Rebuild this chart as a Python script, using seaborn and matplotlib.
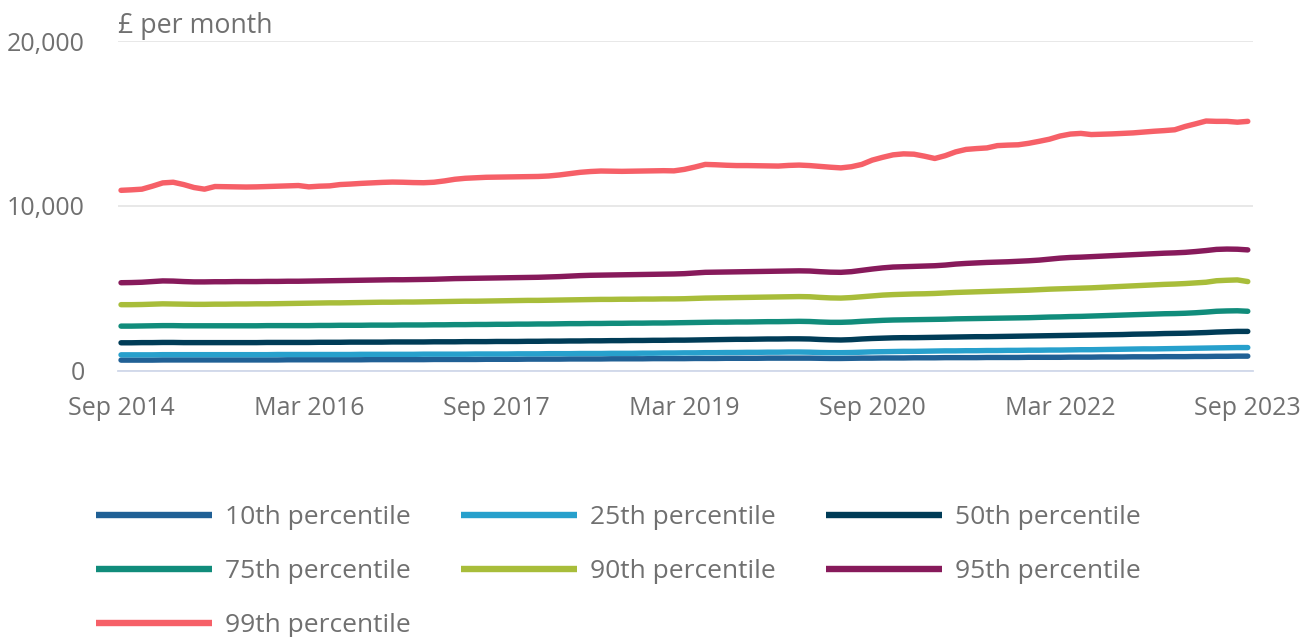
import pandas as pd
import matplotlib.pyplot as plt
import matplotlib.ticker as mticker
import seaborn as sns

# monthly pay by percentile, Sep 2014 .. Sep 2023, in £ thousands per month
p10 = [0.66, 0.66, 0.66, 0.66, 0.67, 0.67, 0.67, 0.67, 0.67,
       0.67, 0.67, 0.67, 0.67, 0.67, 0.67, 0.67, 0.68, 0.68,
       0.68, 0.68, 0.68, 0.68, 0.68, 0.68, 0.69, 0.69, 0.69,
       0.69, 0.69, 0.69, 0.70, 0.70, 0.70, 0.70, 0.70, 0.71,
       0.71, 0.71, 0.71, 0.72, 0.72, 0.72, 0.72, 0.73, 0.73,
       0.73, 0.73, 0.74, 0.74, 0.74, 0.74, 0.75, 0.75, 0.75,
       0.75, 0.76, 0.76, 0.76, 0.77, 0.77, 0.77, 0.77, 0.78,
       0.78, 0.78, 0.78, 0.78, 0.77, 0.76, 0.76, 0.77, 0.78,
       0.78, 0.79, 0.79, 0.79, 0.80, 0.80, 0.80, 0.81, 0.81,
       0.81, 0.81, 0.82, 0.82, 0.82, 0.82, 0.83, 0.83, 0.83,
       0.83, 0.84, 0.84, 0.84, 0.85, 0.85, 0.85, 0.86, 0.86,
       0.86, 0.87, 0.87, 0.87, 0.88, 0.88, 0.89, 0.89, 0.90,
       0.90]
p25 = [0.98, 0.98, 0.98, 0.98, 0.99, 0.99, 0.99, 0.99, 0.99,
       0.99, 0.99, 0.99, 0.99, 0.99, 0.99, 1.00, 1.00, 1.00,
       1.00, 1.00, 1.00, 1.00, 1.00, 1.01, 1.01, 1.01, 1.01,
       1.01, 1.01, 1.02, 1.02, 1.02, 1.02, 1.02, 1.03, 1.03,
       1.03, 1.03, 1.04, 1.04, 1.04, 1.05, 1.05, 1.05, 1.06,
       1.06, 1.06, 1.07, 1.07, 1.07, 1.08, 1.08, 1.09, 1.09,
       1.10, 1.10, 1.11, 1.11, 1.12, 1.12, 1.13, 1.13, 1.14,
       1.14, 1.15, 1.15, 1.14, 1.12, 1.11, 1.11, 1.12, 1.14,
       1.16, 1.17, 1.18, 1.19, 1.19, 1.20, 1.21, 1.22, 1.22,
       1.23, 1.23, 1.24, 1.24, 1.25, 1.25, 1.26, 1.26, 1.27,
       1.27, 1.28, 1.29, 1.29, 1.30, 1.31, 1.32, 1.33, 1.34,
       1.34, 1.35, 1.36, 1.37, 1.38, 1.39, 1.40, 1.41, 1.42,
       1.42]
p50 = [1.71, 1.71, 1.72, 1.72, 1.73, 1.73, 1.72, 1.72, 1.72,
       1.72, 1.72, 1.72, 1.72, 1.72, 1.73, 1.73, 1.73, 1.73,
       1.73, 1.74, 1.74, 1.74, 1.75, 1.75, 1.75, 1.75, 1.76,
       1.76, 1.76, 1.76, 1.77, 1.77, 1.77, 1.78, 1.78, 1.78,
       1.79, 1.79, 1.79, 1.80, 1.80, 1.81, 1.81, 1.82, 1.82,
       1.83, 1.83, 1.84, 1.84, 1.85, 1.85, 1.86, 1.86, 1.87,
       1.87, 1.88, 1.89, 1.90, 1.91, 1.92, 1.92, 1.93, 1.94,
       1.94, 1.95, 1.95, 1.94, 1.91, 1.89, 1.88, 1.90, 1.94,
       1.97, 1.99, 2.01, 2.02, 2.02, 2.03, 2.04, 2.05, 2.06,
       2.07, 2.08, 2.08, 2.09, 2.10, 2.11, 2.12, 2.13, 2.14,
       2.15, 2.16, 2.17, 2.18, 2.19, 2.20, 2.21, 2.23, 2.24,
       2.25, 2.27, 2.28, 2.29, 2.31, 2.33, 2.36, 2.38, 2.40,
       2.40]
p75 = [2.72, 2.72, 2.73, 2.74, 2.75, 2.75, 2.74, 2.74, 2.74,
       2.74, 2.74, 2.74, 2.74, 2.74, 2.75, 2.75, 2.75, 2.75,
       2.75, 2.76, 2.76, 2.77, 2.77, 2.77, 2.78, 2.78, 2.78,
       2.79, 2.79, 2.79, 2.80, 2.80, 2.81, 2.81, 2.82, 2.82,
       2.83, 2.83, 2.84, 2.84, 2.85, 2.85, 2.86, 2.87, 2.87,
       2.88, 2.88, 2.89, 2.89, 2.90, 2.90, 2.91, 2.91, 2.92,
       2.93, 2.94, 2.95, 2.96, 2.96, 2.97, 2.97, 2.98, 2.99,
       2.99, 3.00, 3.01, 3.00, 2.97, 2.95, 2.95, 2.97, 3.01,
       3.04, 3.07, 3.09, 3.10, 3.11, 3.12, 3.13, 3.14, 3.16,
       3.17, 3.18, 3.19, 3.20, 3.21, 3.22, 3.23, 3.25, 3.27,
       3.28, 3.30, 3.31, 3.33, 3.35, 3.37, 3.39, 3.41, 3.43,
       3.45, 3.47, 3.48, 3.50, 3.53, 3.57, 3.62, 3.64, 3.65,
       3.62]
p90 = [4.02, 4.02, 4.03, 4.05, 4.07, 4.06, 4.05, 4.04, 4.04,
       4.05, 4.05, 4.06, 4.06, 4.07, 4.07, 4.08, 4.09, 4.10,
       4.11, 4.12, 4.13, 4.13, 4.14, 4.15, 4.16, 4.17, 4.17,
       4.18, 4.18, 4.19, 4.20, 4.21, 4.22, 4.23, 4.23, 4.24,
       4.25, 4.26, 4.27, 4.28, 4.28, 4.29, 4.30, 4.31, 4.32,
       4.33, 4.34, 4.34, 4.35, 4.35, 4.36, 4.36, 4.37, 4.37,
       4.38, 4.40, 4.42, 4.43, 4.44, 4.45, 4.46, 4.47, 4.48,
       4.49, 4.50, 4.51, 4.50, 4.46, 4.43, 4.42, 4.45, 4.50,
       4.55, 4.60, 4.63, 4.65, 4.67, 4.68, 4.70, 4.73, 4.76,
       4.78, 4.80, 4.82, 4.84, 4.86, 4.88, 4.90, 4.93, 4.96,
       4.98, 5.00, 5.02, 5.04, 5.07, 5.10, 5.13, 5.16, 5.19,
       5.22, 5.25, 5.27, 5.30, 5.34, 5.38, 5.47, 5.50, 5.52,
       5.42]
p95 = [5.35, 5.36, 5.38, 5.42, 5.46, 5.45, 5.42, 5.40, 5.40,
       5.41, 5.41, 5.42, 5.42, 5.42, 5.43, 5.43, 5.44, 5.44,
       5.45, 5.46, 5.47, 5.48, 5.49, 5.50, 5.51, 5.52, 5.53,
       5.53, 5.54, 5.55, 5.56, 5.58, 5.60, 5.61, 5.62, 5.63,
       5.64, 5.65, 5.66, 5.67, 5.68, 5.70, 5.72, 5.75, 5.78,
       5.80, 5.81, 5.82, 5.83, 5.84, 5.85, 5.86, 5.87, 5.88,
       5.90, 5.94, 5.98, 5.99, 6.00, 6.01, 6.02, 6.03, 6.04,
       6.05, 6.06, 6.07, 6.06, 6.02, 5.99, 5.98, 6.02, 6.10,
       6.18, 6.25, 6.30, 6.32, 6.34, 6.36, 6.38, 6.42, 6.48,
       6.52, 6.55, 6.58, 6.60, 6.62, 6.65, 6.68, 6.72, 6.78,
       6.84, 6.88, 6.90, 6.93, 6.96, 6.99, 7.02, 7.05, 7.08,
       7.11, 7.14, 7.16, 7.19, 7.24, 7.30, 7.37, 7.39, 7.38,
       7.34]
p99 = [10.95, 10.98, 11.02, 11.20, 11.40, 11.44, 11.30, 11.12, 11.02,
       11.18, 11.17, 11.16, 11.15, 11.16, 11.18, 11.20, 11.22, 11.24,
       11.16, 11.20, 11.22, 11.30, 11.33, 11.37, 11.40, 11.43, 11.45,
       11.44, 11.42, 11.41, 11.44, 11.52, 11.62, 11.68, 11.71, 11.74,
       11.75, 11.76, 11.77, 11.78, 11.79, 11.82, 11.88, 11.96, 12.04,
       12.09, 12.12, 12.11, 12.10, 12.11, 12.12, 12.13, 12.14, 12.13,
       12.22, 12.36, 12.52, 12.50, 12.47, 12.45, 12.45, 12.44, 12.43,
       12.42, 12.46, 12.48, 12.45, 12.40, 12.35, 12.31, 12.38, 12.52,
       12.78, 12.95, 13.10, 13.16, 13.14, 13.02, 12.88, 13.05, 13.28,
       13.43, 13.48, 13.52, 13.66, 13.69, 13.71, 13.80, 13.92, 14.05,
       14.24, 14.36, 14.40, 14.33, 14.35, 14.37, 14.40, 14.43, 14.48,
       14.53, 14.57, 14.62, 14.82, 14.98, 15.15, 15.13, 15.13, 15.08,
       15.13]

series_names = ["10th percentile", "25th percentile", "50th percentile",
                "75th percentile", "90th percentile", "95th percentile",
                "99th percentile"]
series_values = [p10, p25, p50, p75, p90, p95, p99]
colors = ["#206095", "#27a0cc", "#003c57", "#118c7b",
          "#a8bd3a", "#871a5b", "#f66068"]

tick_months = [0, 18, 36, 54, 72, 90, 108]
tick_labels = ["Sep 2014", "Mar 2016", "Sep 2017", "Mar 2019",
               "Sep 2020", "Mar 2022", "Sep 2023"]

frames = []
for name, vals in zip(series_names, series_values):
    frames.append(pd.DataFrame({"month": range(len(vals)), "pay": vals, "series": name}))
df = pd.concat(frames, ignore_index=True)

sns.set_style("white")
plt.rcParams["font.family"] = ["Open Sans", "DejaVu Sans"]

text_grey = "#707070"
axis_blue = "#d0d8ea"

fig = plt.figure(figsize=(13.13, 6.37), dpi=100)
ax = fig.add_axes([118 / 1313, 1 - 371 / 637, (1253 - 118) / 1313, (371 - 41) / 637])

sns.lineplot(data=df, x="month", y="pay", hue="series", hue_order=series_names,
             palette=dict(zip(series_names, colors)), linewidth=3.9, ax=ax,
             solid_capstyle="round", legend=True)

ax.set_xlim(-0.29, 108.5)
ax.set_ylim(0, 20)
ax.set_xlabel("")
ax.set_ylabel("")

ax.set_yticks([0, 10, 20])
ax.yaxis.set_major_formatter(mticker.FuncFormatter(lambda v, p: f"{v * 1000:,.0f}"))
ax.grid(axis="y", color="#e6e6e6", linewidth=1.3)
ax.tick_params(axis="y", length=0, pad=24, labelsize=18, labelcolor=text_grey)

ax.set_xticks(tick_months)
ax.set_xticklabels(tick_labels)
ax.tick_params(axis="x", length=12, width=1.3, color=axis_blue, pad=6,
               labelsize=18, labelcolor=text_grey)

for side in ["top", "right", "left"]:
    ax.spines[side].set_visible(False)
ax.spines["bottom"].set_color(axis_blue)
ax.spines["bottom"].set_linewidth(1.3)
ax.set_axisbelow(True)

ax.text(0, 1.003, "£ per month", transform=ax.transAxes, ha="left", va="bottom",
        fontsize=19.3, color=text_grey)

# legend fills row by row in the reference: reorder for matplotlib's column fill
handles, labels = ax.get_legend_handles_labels()
ax.get_legend().remove()
order = [0, 3, 6, 1, 4, 2, 5]
leg = fig.legend([handles[i] for i in order], [labels[i] for i in order], ncol=3,
                 loc="upper left", bbox_to_anchor=(72 / 1313, 1 - 481 / 637),
                 frameon=False, fontsize=19, labelcolor=text_grey, handlelength=4.4,
                 handletextpad=0.5, columnspacing=1.9, labelspacing=1.1)
for line in leg.get_lines():
    line.set_linewidth(4.6)
    line.set_solid_capstyle("butt")

plt.savefig("out.png", dpi=100)
